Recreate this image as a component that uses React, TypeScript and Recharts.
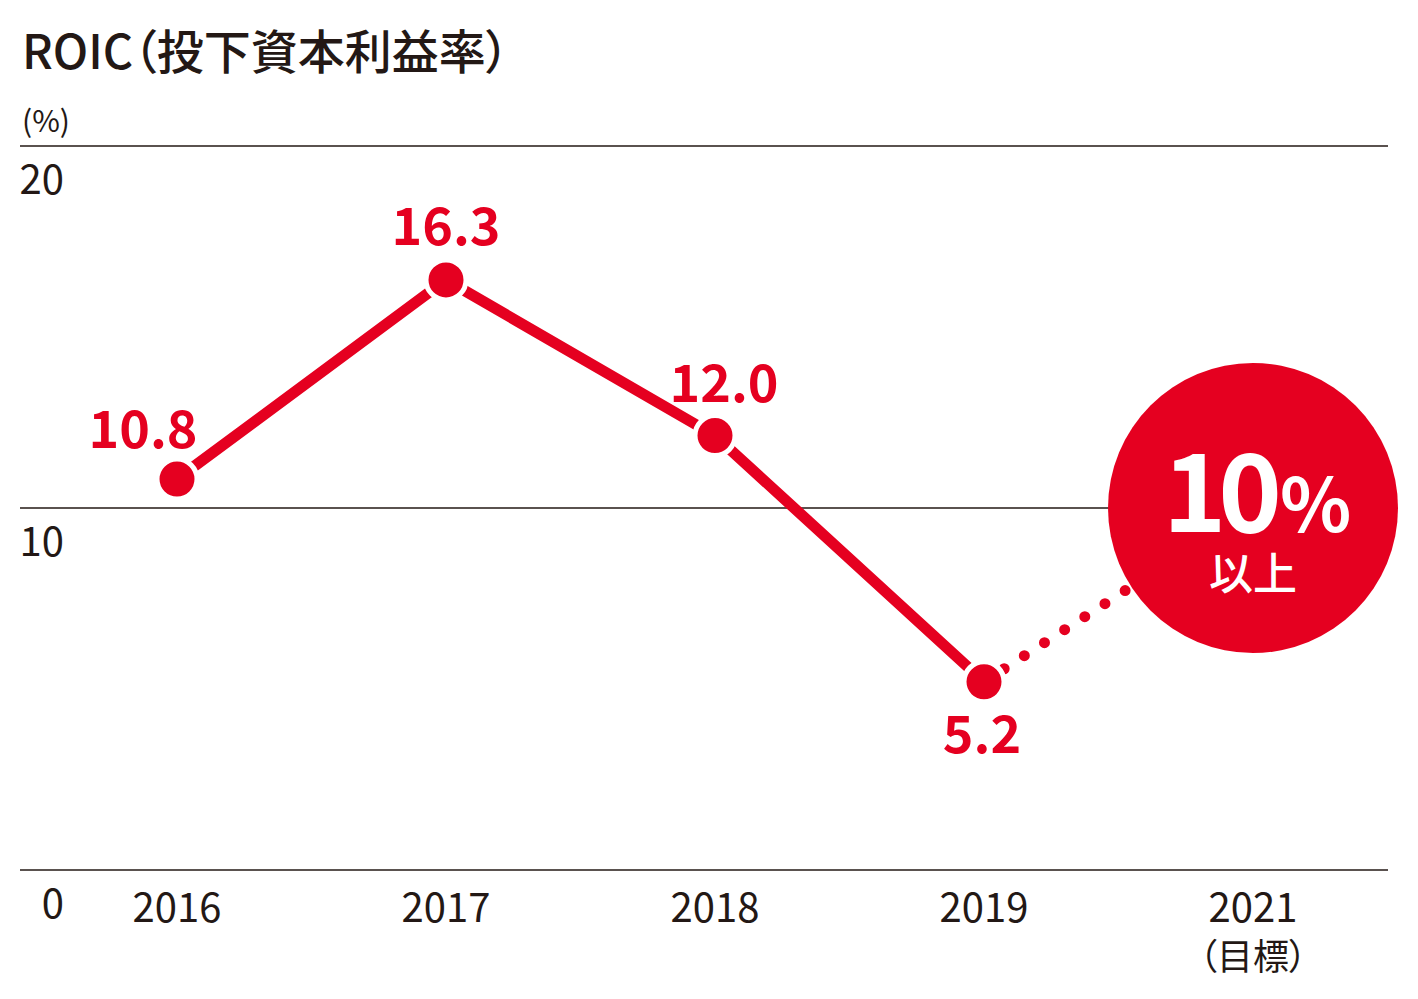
import { LineChart, Line, XAxis, YAxis, CartesianGrid, LabelList } from 'recharts'

const YEARS = ['2016', '2017', '2018', '2019', '2021']
const YEAR_NOTES = ['', '', '', '', '（目標）']
const ROIC = [10.8, 16.3, 12.0, 5.2, null]
const TARGET = [null, null, null, 5.2, 10]
const Y_TICKS = [0, 10, 20]
const TARGET_VALUE = '10'
const TARGET_UNIT = '%'
const TARGET_NOTE = '以上'

const RED = '#e50020'
const INK = '#231815'
const FONT = '"Noto Sans CJK JP", "Noto Sans", sans-serif'

// label offsets (dx, dy of baseline) relative to each point
const LABEL_POS: [number, number][] = [[-34, -31], [0, -35], [9, -34], [-2, 71]]

const data = YEARS.map((year, i) => ({ year, note: YEAR_NOTES[i], roic: ROIC[i], target: TARGET[i] }))

const XTick = ({ x, y, index }: any) => (
  <g>
    <text x={x} y={y + 52} textAnchor="middle" fontSize={40} fill={INK} fontFamily={FONT}>{YEARS[index]}</text>
    {YEAR_NOTES[index] && (
      <text x={x} y={y + 100} textAnchor="middle" fontSize={36} fill={INK} fontFamily={FONT}
        style={{ fontFeatureSettings: '"palt"' }}>{YEAR_NOTES[index]}</text>
    )}
  </g>
)

const YTick = ({ y, payload }: any) => (
  <text x={56} y={y + 48} textAnchor="end" fontSize={40} fill={INK} fontFamily={FONT}>{payload.value}</text>
)

const Dot = ({ cx, cy, index }: any) => (
  cx == null || cy == null ? <g key={index} /> :
    <circle key={index} cx={cx} cy={cy} r={20} fill={RED} stroke="#fff" strokeWidth={5} />
)

const TargetDot = ({ cx, cy, index }: any) => {
  if (index !== TARGET.length - 1 || cx == null) return <g key={index} />
  return (
    <g key={index}>
      <circle cx={cx} cy={cy} r={145} fill={RED} />
      <text x={cx + 4} y={cy + 24} textAnchor="middle" fill="#fff" fontFamily={FONT} fontWeight={700}>
        <tspan fontSize={108} letterSpacing={-8}>{TARGET_VALUE}</tspan>
        <tspan fontSize={74} dx={6}>{TARGET_UNIT}</tspan>
      </text>
      <text x={cx} y={cy + 82} textAnchor="middle" fill="#fff" fontFamily={FONT} fontSize={44} fontWeight={500}>
        {TARGET_NOTE}
      </text>
    </g>
  )
}

const ValueLabel = ({ x, y, value, index }: any) => {
  if (value == null) return null
  const [dx, dy] = LABEL_POS[index] || [0, -35]
  return (
    <text x={x + dx} y={y + dy} textAnchor="middle" fontSize={52} fontWeight={700} fill={RED} fontFamily={FONT}>
      {Number(value).toFixed(1)}
    </text>
  )
}

export default function App() {
  return (
    <div style={{ position: 'relative', width: 1400, height: 985, fontFamily: FONT, color: INK }}>
      <div style={{ position: 'absolute', left: 14, top: 17, fontSize: 47, fontWeight: 500, lineHeight: 1, fontFeatureSettings: '"palt"' }}>
        ROIC（投下資本利益率）
      </div>
      <div style={{ position: 'absolute', left: 14, top: 96, fontSize: 30, lineHeight: 1 }}>(%)</div>
      <LineChart width={1400} height={985} data={data} margin={{ top: 138, right: 20, bottom: 0, left: -44 }}>
        <CartesianGrid vertical={false} stroke={INK} strokeWidth={1.5} />
        <XAxis dataKey="year" axisLine={false} tickLine={false} tickSize={0} tickMargin={0}
          padding={{ left: 157, right: 135 }} tick={<XTick />} interval={0} height={123} />
        <YAxis domain={[0, 20]} ticks={Y_TICKS} axisLine={false} tickLine={false} width={56} tick={<YTick />} interval={0} />
        <Line dataKey="target" stroke={RED} strokeWidth={11} strokeDasharray="0 24" strokeLinecap="round"
          dot={<TargetDot />} activeDot={false} isAnimationActive={false} connectNulls={false} />
        <Line dataKey="roic" stroke={RED} strokeWidth={11} dot={<Dot />} activeDot={false} isAnimationActive={false}>
          <LabelList dataKey="roic" content={<ValueLabel />} />
        </Line>
      </LineChart>
    </div>
  )
}
